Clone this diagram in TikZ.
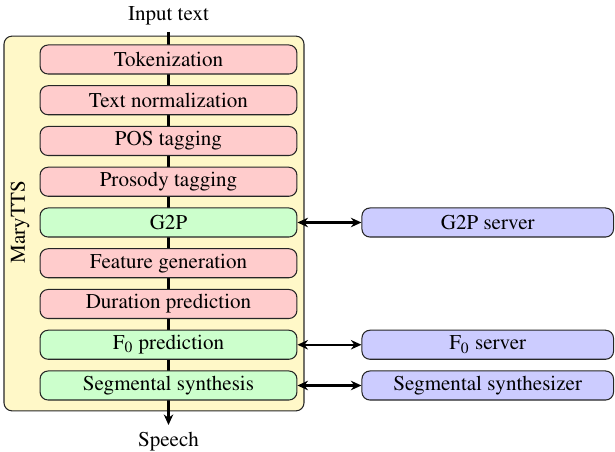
\documentclass[tikz,border=0pt]{standalone}
\usepackage[T1]{fontenc}
\usepackage{mathptmx}
\usetikzlibrary{arrows.meta,backgrounds}
\definecolor{boxpink}{RGB}{255,204,204}
\definecolor{boxgreen}{RGB}{204,255,204}
\definecolor{boxblue}{RGB}{204,204,255}
\definecolor{boxyellow}{RGB}{255,248,200}
\begin{document}
\begin{tikzpicture}[x=0.475pt,y=-0.475pt, font=\rmfamily,
  stage/.style={draw=black!85, rounded corners=3.8pt, minimum width=122pt,
    minimum height=13.8pt, inner sep=0pt, line width=0.5pt},
  local/.style={stage, fill=boxpink},
  remote/.style={stage, fill=boxgreen},
  server/.style={stage, fill=boxblue, minimum width=119.5pt},
  link/.style={line width=1pt, {Stealth[length=5pt,width=4.5pt]}-{Stealth[length=5pt,width=4.5pt]}},
  flow/.style={line width=1pt, -{Stealth[length=5pt,width=4.5pt]}}]
\useasboundingbox (0,0) rectangle (615,452);

\node[anchor=south] (input) at (168.5,32) {Input text};
\node[anchor=north] (speech) at (168.5,425) {Speech};

\node[local]  (tok)   at (168.5,59.5)  {Tokenization};
\node[local]  (norm)  at (168.5,100.25) {Text normalization};
\node[local]  (pos)   at (168.5,141)   {POS tagging};
\node[local]  (pros)  at (168.5,181.75) {Prosody tagging};
\node[remote] (gtp)   at (168.5,222.5) {G2P};
\node[local]  (feat)  at (168.5,263.25) {Feature generation};
\node[local]  (dur)   at (168.5,304)   {Duration prediction};
\node[remote] (fzero) at (168.5,344.75) {F$_0$ prediction};
\node[remote] (seg)   at (168.5,385.5) {Segmental synthesis};

\node[server] (gtps)   at (487.75,222.5)  {G2P server};
\node[server] (fzeros) at (487.75,344.75) {F$_0$ server};
\node[server] (segs)   at (487.75,385.5)  {Segmental synthesizer};

\node[rotate=90] (label) at (20,222) {MaryTTS};

\begin{pgfonlayer}{background}
  \node[draw=black!85, fill=boxyellow, rounded corners=3.8pt, line width=0.5pt,
    minimum width=142.5pt, minimum height=178pt, inner sep=0pt] (mary) at (154,223.5) {};
  \draw[flow] (input) -- (speech);
\end{pgfonlayer}

\draw[link] (gtp) -- (gtps);
\draw[link] (fzero) -- (fzeros);
\draw[link] (seg) -- (segs);
\end{tikzpicture}
\end{document}
